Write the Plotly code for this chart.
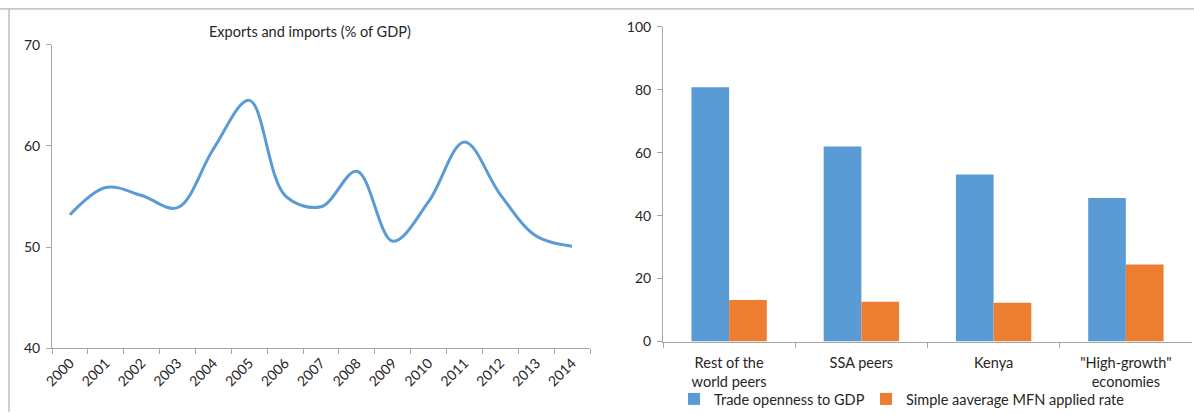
import plotly.graph_objects as go

# Left chart data
years = ["2000", "2001", "2002", "2003", "2004", "2005", "2006", "2007",
         "2008", "2009", "2010", "2011", "2012", "2013", "2014"]
trade_pct_gdp = [53.2, 55.9, 55.1, 53.9, 59.7, 64.5, 55.1, 54.0,
                 57.5, 50.6, 54.5, 60.4, 55.2, 51.1, 50.1]

# Right chart data
groups = ["Rest of the<br>world peers", "SSA peers", "Kenya", "\"High-growth\"<br>economies"]
openness = [80.8, 62.0, 53.1, 45.6]
mfn_rate = [13.2, 12.6, 12.3, 24.5]

BLUE = "#5B9BD5"
ORANGE = "#ED7D31"
AXIS = "#A6A6A6"
TEXT = "#262626"
FONT = "Lato"

W, H = 1194, 415

def px_x(a, b):
    return [a / W, b / W]

def px_y(top, bottom):
    return [1 - bottom / H, 1 - top / H]

fig = go.Figure()

fig.add_trace(go.Scatter(
    x=years, y=trade_pct_gdp, mode="lines",
    line=dict(color=BLUE, width=3, shape="spline", smoothing=1.0),
    xaxis="x", yaxis="y", showlegend=False, hoverinfo="x+y",
))

fig.add_trace(go.Bar(
    x=groups, y=openness, name="Trade openness to GDP",
    marker=dict(color=BLUE, line=dict(width=0)),
    xaxis="x2", yaxis="y2", legend="legend",
))
fig.add_trace(go.Bar(
    x=groups, y=mfn_rate, name="Simple aaverage MFN applied rate",
    marker=dict(color=ORANGE, line=dict(width=0)),
    xaxis="x2", yaxis="y2", legend="legend2",
))

common_axis = dict(showgrid=False, zeroline=False, showline=True, linecolor=AXIS,
                   linewidth=1, ticks="outside", tickcolor=AXIS, ticklen=5,
                   automargin=False,
                   tickfont=dict(family=FONT, size=14, color=TEXT))

legend_common = dict(orientation="h", xanchor="left", y=1 - 402 / H,
                     yanchor="middle", font=dict(family=FONT, size=14.5, color=TEXT),
                     itemwidth=30, bgcolor="rgba(0,0,0,0)")

fig.update_layout(
    width=W, height=H,
    margin=dict(l=0, r=0, t=0, b=0),
    paper_bgcolor="white", plot_bgcolor="white",
    font=dict(family=FONT, color=TEXT),
    barmode="group", bargap=0.43, bargroupgap=0,
    xaxis=dict(domain=px_x(52, 590), anchor="y", type="category",
               range=[-0.5, 14.5], tickson="boundaries", tickangle=-45,
               **{**common_axis, "tickfont": dict(family=FONT, size=14, color=TEXT)}),
    yaxis=dict(domain=px_y(45, 351), anchor="x", range=[40, 70],
               tickvals=[40, 50, 60, 70], ticklabelstandoff=3, **common_axis),
    xaxis2=dict(domain=px_x(663, 1192), anchor="y2", type="category",
                range=[-0.5, 3.5], tickson="boundaries", ticklabelstandoff=8,
                **{**common_axis, "tickfont": dict(family=FONT, size=14.5, color=TEXT)}),
    yaxis2=dict(domain=px_y(27, 344), anchor="x2", range=[0, 100],
                tickvals=[0, 20, 40, 60, 80, 100], ticklabelstandoff=3, **common_axis),
    legend=dict(x=674 / W, **legend_common),
    legend2=dict(x=866 / W, **legend_common),
    annotations=[dict(text="Exports and imports (% of GDP)", x=310 / W, y=1 - 32 / H,
                      xref="paper", yref="paper", xanchor="center", yanchor="middle",
                      showarrow=False,
                      font=dict(family=FONT, size=14.5, color=TEXT))],
    shapes=[
        dict(type="line", xref="paper", yref="paper", x0=0, x1=1,
             y0=1 - 9 / H, y1=1 - 9 / H, line=dict(color="#A0A0A0", width=1)),
        dict(type="line", xref="paper", yref="paper", x0=9 / W, x1=9 / W,
             y0=0, y1=1 - 9 / H, line=dict(color="#A0A0A0", width=1)),
    ],
)

fig.write_html(
    "out.html",
    config={"displayModeBar": False},
    post_script="document.body.style.margin='0';document.body.style.overflow='hidden';",
)
